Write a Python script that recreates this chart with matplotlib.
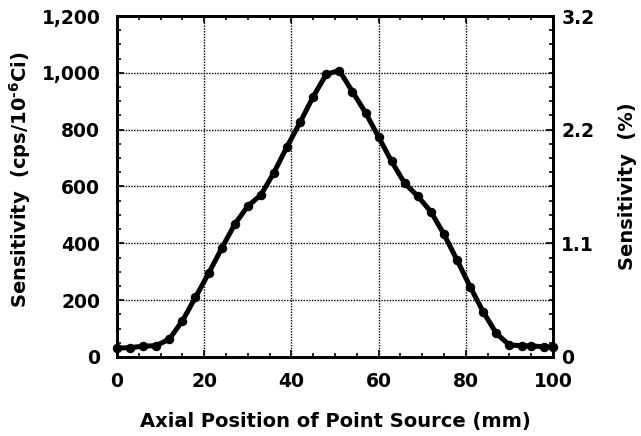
import matplotlib
matplotlib.use("Agg")
import matplotlib.pyplot as plt
from matplotlib.ticker import MultipleLocator, FuncFormatter

plt.rcParams['font.family'] = ['DejaVu Sans']
plt.rcParams['font.weight'] = 'bold'
plt.rcParams['mathtext.fontset'] = 'custom'
plt.rcParams['mathtext.rm'] = 'DejaVu Sans:bold'
plt.rcParams['mathtext.it'] = 'DejaVu Sans:bold'
plt.rcParams['mathtext.bf'] = 'DejaVu Sans:bold'

position_mm = [0, 3, 6, 9, 12, 15, 18, 21, 24, 27, 30, 33, 36, 39, 42, 45, 48, 51,
               54, 57, 60, 63, 66, 69, 72, 75, 78, 81, 84, 87, 90, 93, 95, 98, 100]
sensitivity = [31, 33, 38, 40, 63, 127, 210, 294, 382, 467, 531, 570, 649, 740, 826,
               916, 995, 1008, 934, 860, 774, 688, 611, 566, 511, 432, 341, 247, 159,
               83, 42, 40, 39, 36, 36]
right_tick_labels = ["0", "1.1", "2.2", "3.2"]
right_tick_values = [0, 400, 800, 1200]

fig = plt.figure(figsize=(6.41, 4.36), dpi=100)
ax = fig.add_axes([0.1825, 0.1812, 0.6802, 0.7821])

ax.plot(position_mm, sensitivity, color='black', lw=3.6, marker='o', ms=5.8,
        solid_joinstyle='round', zorder=3, clip_on=False)

ax.set_xlim(0, 100)
ax.set_ylim(0, 1200)
ax.xaxis.set_major_locator(MultipleLocator(20))
ax.xaxis.set_minor_locator(MultipleLocator(5))
ax.yaxis.set_major_locator(MultipleLocator(200))
ax.yaxis.set_minor_locator(MultipleLocator(50))
ax.yaxis.set_major_formatter(FuncFormatter(lambda v, p: f"{int(v):,}"))

ax.grid(True, which='major', color='black', linestyle=(0, (1.0, 1.0)), lw=1.0)
for s in ax.spines.values():
    s.set_linewidth(2)

ax.tick_params(which='both', direction='in', top=True, right=False, width=1.2)
ax.tick_params(which='major', length=5)
ax.tick_params(which='minor', length=3)
ax.tick_params(axis='x', which='major', pad=11, labelsize=13.5)
ax.tick_params(axis='y', which='major', pad=12, labelsize=13.5)

ax2 = ax.twinx()
ax2.set_ylim(0, 1200)
ax2.set_yticks(right_tick_values)
ax2.set_yticklabels(right_tick_labels)
ax2.yaxis.set_minor_locator(MultipleLocator(50))
ax2.tick_params(which='both', direction='in', width=1.2, labelsize=13.5, pad=6)
ax2.tick_params(which='major', length=5)
ax2.tick_params(which='minor', length=3)
for s in ax2.spines.values():
    s.set_linewidth(2)

ax.set_xlabel("Axial Position of Point Source (mm)", fontsize=14, fontweight='bold')
ax.set_ylabel(r"Sensitivity  (cps/10$^{\text{-6}}$Ci)", fontsize=14, fontweight='bold')
ax2.set_ylabel("Sensitivity  (%)", fontsize=14, fontweight='bold')
ax.xaxis.set_label_coords(0.5, -0.19)
ax.xaxis.label.set_va('center')
ax.yaxis.set_label_coords(-0.222, 0.52)
ax.yaxis.label.set_va('center')
ax2.yaxis.set_label_coords(1.172, 0.5)
ax2.yaxis.label.set_va('center')

fig.savefig("out.png", dpi=100)
